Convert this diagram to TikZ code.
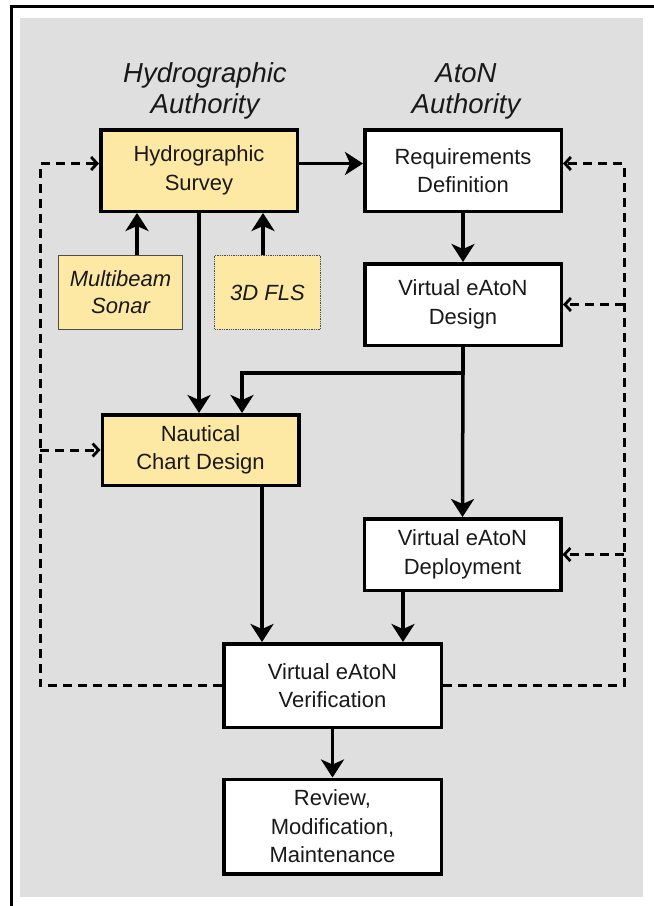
\documentclass[tikz,border=0pt]{standalone}
\usepackage{fontspec}
\setmainfont{Liberation Sans}
\usetikzlibrary{arrows.meta}
\definecolor{chartyellow}{RGB}{253,233,164}
\definecolor{panelgray}{RGB}{223,223,223}
\definecolor{inktext}{RGB}{25,25,25}

\begin{document}
\begin{tikzpicture}[x=1pt,y=-1pt,
    >={Stealth[length=18pt,width=23pt,inset=5pt]},
    box/.style={draw,line width=3.5pt,fill=white,minimum width=196.5pt,minimum height=81.5pt,
        inner sep=0pt,align=center,text=inktext,font=\fontsize{22}{28.5}\selectfont},
    hbox/.style={box,fill=chartyellow},
    sensor/.style={draw=black!70,line width=1.3pt,fill=chartyellow,minimum height=73.5pt,
        inner sep=0pt,align=center,text=inktext,font=\fontsize{22}{27}\selectfont\itshape},
    head/.style={align=center,text=inktext,font=\fontsize{27.5}{31}\selectfont\itshape},
    flow/.style={->,line width=3.5pt},
    fb/.style={-{Straight Barb[length=6pt,width=13pt,line width=2.8pt]},line width=3pt,dash pattern=on 9pt off 6pt}]
    \useasboundingbox (0,0) rectangle (654,906);
    \fill[panelgray] (20,18) rectangle (643,897);
    \draw[line width=3pt] (11,906) -- (11,6) -- (654,6);

    \node[head] (hydroHead) at (205,91) {Hydrographic\\Authority};
    \node[head] (atonHead) at (466,91) {AtoN\\Authority};

    \node[hbox] (survey) at (199,170.5) {Hydrographic\\Survey};
    \node[box] (req) at (463,170.5) {Requirements\\Definition};
    \node[sensor,minimum width=123.5pt] (mb) at (120.5,292.5) {Multibeam\\Sonar};
    \node[sensor,densely dotted,minimum width=105.5pt] (fls) at (267.5,292.5) {3D FLS};
    \node[box] (design) at (463,304.5) {Virtual eAtoN\\Design};
    \node[hbox,minimum height=70.5pt] (nautical) at (200.5,450) {Nautical\\Chart Design};
    \node[box,minimum height=71.5pt] (deploy) at (462.5,554.5) {Virtual eAtoN\\Deployment};
    \node[box,minimum width=217.5pt,minimum height=83.5pt] (verif) at (332.5,685.5) {Virtual eAtoN\\Verification};
    \node[box,minimum width=217.5pt,minimum height=94.5pt] (review) at (332.5,826.5) {Review,\\Modification,\\Maintenance};

    \coordinate (surveyOut) at ([yshift=7pt]survey.east);
    \coordinate (surveyIn) at ([yshift=7pt]survey.west);
    \coordinate (reqLeft) at ([yshift=7pt]req.west);
    \coordinate (reqIn) at ([yshift=7pt]req.east);
    \coordinate (fbL) at (40,0);
    \coordinate (fbR) at (624,0);

    \draw[flow] (surveyOut) -- (reqLeft);
    \draw[flow] (req.south) -- (design.north);
    \draw[flow] ([xshift=16.5pt]mb.north) -- ([xshift=16.5pt]mb.north |- survey.south);
    \draw[flow] ([xshift=-4.5pt]fls.north) -- ([xshift=-4.5pt]fls.north |- survey.south);
    \draw[flow] (survey.south) -- (survey.south |- nautical.north);
    \draw[flow] (design.south) -- ++(0,26) -| ([xshift=41.5pt]nautical.north);
    \draw[flow] (design.south) -- (deploy.north);
    \draw[flow] ([xshift=61.5pt]nautical.south) -- ([xshift=61.5pt]nautical.south |- verif.north);
    \draw[flow] ([xshift=-59.5pt]deploy.south) -- ([xshift=-59.5pt]deploy.south |- verif.north);
    \draw[flow] (verif.south) -- (review.north);

    \draw[fb] (verif.west) -| (fbL |- surveyIn) -- (surveyIn);
    \draw[fb] (fbL |- nautical.west) -- (nautical.west);
    \draw[fb] (verif.east) -| (fbR |- reqIn) -- (reqIn);
    \draw[fb] (fbR |- design.east) -- (design.east);
    \draw[fb] (fbR |- deploy.east) -- (deploy.east);
\end{tikzpicture}
\end{document}
